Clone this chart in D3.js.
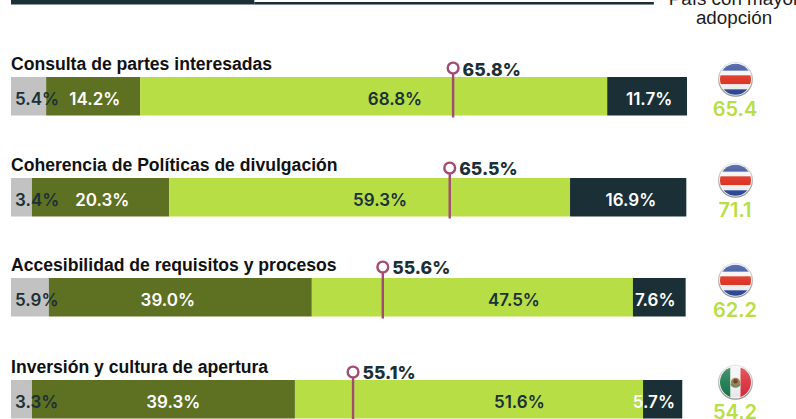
<!DOCTYPE html>
<html><head><meta charset="utf-8">
<script src="https://cdn.jsdelivr.net/npm/d3@7"></script>
<style>
html,body{margin:0;padding:0;background:#fff;overflow:hidden}
svg{display:block}
text{font-family:Inter,"Liberation Sans",sans-serif}
text.grot{font-family:"Liberation Sans",Arial,sans-serif}
</style></head><body>
<div id="chart"></div>
<script>
const categories=["Consulta de partes interesadas","Coherencia de Políticas de divulgación","Accesibilidad de requisitos y procesos","Inversión y cultura de apertura"];
const seriesA=[5.2,3.1,5.6,3.1];
const seriesB=[13.9,20.3,38.9,38.9];
const seriesC=[69.1,59.3,47.5,51.5];
const seriesD=[11.8,17.2,7.8,5.8];
const labelsA=["5.4%","3.4%","5.9%","3.3%"];
const labelsB=["14.2%","20.3%","39.0%","39.3%"];
const labelsC=["68.8%","59.3%","47.5%","51.6%"];
const labelsD=["11.7%","16.9%","7.6%","5.7%"];
const averages=[65.4,64.9,55.0,50.6];
const averageLabels=["65.8%","65.5%","55.6%","55.1%"];
const bestCountries=["CR","CR","CR","MX"];
const bestValues=["65.4","71.1","62.2","54.2"];
const headerLines=["País con mayor","adopción"];

// placement, kept apart from the data
const anchorA=[0.6,0.6,0.6,0.6];
const anchorB=[12.4,13.5,23.2,24.0];
const anchorC=[56.8,54.6,74.4,75.2];
const anchorD=[94.4,91.7,95.3,95.1];
const rowTops=[77,178,278,380];
const markerLift=[9,10,11,8];
const markerLabelLift=[1,3,4,1];

const W=796,H=419,DARK="#1a3036",OLIVE="#5e7021",LIME="#b7de45",GREY="#c2c2c2",PLUM="#a34a72";
const x=d3.scaleLinear().domain([0,100]).range([11,687]);
const y=d3.scaleOrdinal().domain(categories).range(rowTops);
const barH=38.5;

const svg=d3.select("#chart").append("svg").attr("width",W).attr("height",H);
const defs=svg.append("defs");
const ring=defs.append("linearGradient").attr("id","ring").attr("x1",0).attr("y1",0).attr("x2",0).attr("y2",1);
ring.append("stop").attr("offset",0).attr("stop-color","#e8e8e8");
ring.append("stop").attr("offset",1).attr("stop-color","#8f8f8f");
const gloss=defs.append("linearGradient").attr("id","gloss").attr("x1",0).attr("y1",0).attr("x2",0).attr("y2",1);
gloss.append("stop").attr("offset",0).attr("stop-color","#fff").attr("stop-opacity",.22);
gloss.append("stop").attr("offset",.5).attr("stop-color","#fff").attr("stop-opacity",.06);
gloss.append("stop").attr("offset",1).attr("stop-color","#000").attr("stop-opacity",.06);
defs.append("clipPath").attr("id","disc").append("circle").attr("r",15.5);
defs.append("filter").attr("id","soft").append("feGaussianBlur").attr("stdDeviation",.45);

// header rule
svg.append("rect").attr("x",x(0)).attr("y",0).attr("width",x(36)-x(0)).attr("height",4.5).attr("fill",DARK);
svg.append("rect").attr("x",x(36)).attr("y",2).attr("width",x(95.1)-x(36)).attr("height",2.2).attr("fill",DARK);
svg.append("rect").attr("x",x(36)).attr("y",4.2).attr("width",x(95.1)-x(36)).attr("height",.8).attr("fill",DARK).attr("opacity",.55);
svg.selectAll("text.head").data(headerLines).join("text").attr("class","head grot")
  .attr("x",734).attr("y",(d,i)=>5+i*19).attr("text-anchor","middle")
  .attr("font-size",18.8).attr("font-weight",400).attr("fill","#1b1b1b").text(d=>d);

const rows=categories.map((c,i)=>{
  const vals=[seriesA[i],seriesB[i],seriesC[i],seriesD[i]];
  let acc=0;
  const segs=vals.map(v=>{const s={x0:acc,x1:acc+v};acc+=v;return s;});
  return {c,i,segs,
    labels:[labelsA[i],labelsB[i],labelsC[i],labelsD[i]],
    anchors:[anchorA[i],anchorB[i],anchorC[i],anchorD[i]]};
});
const fills=[GREY,OLIVE,LIME,DARK];
const textFill=[DARK,"#fff",DARK,"#fff"];

const row=svg.selectAll("g.row").data(rows).join("g").attr("class","row");
row.append("text").attr("class","grot").attr("x",11).attr("y",d=>y(d.c)-7)
  .attr("font-size",17.6).attr("font-weight",700).attr("fill","#111").text(d=>d.c);
row.each(function(d){
  const g=d3.select(this),top=y(d.c);
  g.selectAll("rect.seg").data(d.segs).join("rect").attr("class","seg")
    .attr("x",s=>x(s.x0)).attr("y",top).attr("width",s=>x(s.x1)-x(s.x0)).attr("height",barH)
    .attr("fill",(s,j)=>fills[j]);
  g.selectAll("text.lab").data(d.labels).join("text").attr("class","lab")
    .attr("x",(s,j)=>x(d.anchors[j])).attr("y",top+27.5)
    .attr("text-anchor",(s,j)=>j===0?"start":"middle")
    .attr("font-size",17).attr("font-weight",600)
    .attr("fill",(s,j)=>textFill[j]).text(s=>s);
  // average marker
  const mx=x(averages[d.i]),my=top-markerLift[d.i];
  g.append("line").attr("x1",mx).attr("x2",mx).attr("y1",my).attr("y2",top+40.5)
    .attr("stroke",PLUM).attr("stroke-width",2.4);
  g.append("circle").attr("cx",mx).attr("cy",my).attr("r",5.4).attr("fill","#fff")
    .attr("stroke",PLUM).attr("stroke-width",2.4);
  g.append("text").attr("x",mx+9.5).attr("y",top-markerLabelLift[d.i]).attr("font-size",17.6).attr("font-weight",800)
    .attr("fill",DARK).text(averageLabels[d.i]);
  // best-country flag
  const f=g.append("g").attr("transform",`translate(735.5,${top+2.3})`).attr("filter","url(#soft)");
  f.append("circle").attr("r",17.5).attr("fill","url(#ring)");
  f.append("circle").attr("r",16.2).attr("fill","#fff");
  const fc=f.append("g").attr("clip-path","url(#disc)");
  if(bestCountries[d.i]==="CR"){
    [["#2f4a9a",-16,7.5],["#f4f4f4",-8.5,4.5],["#dc2f1f",-4,9],["#f4f4f4",5,5],["#2f4a9a",10,7]].forEach(b=>
      fc.append("rect").attr("x",-16).attr("y",b[1]).attr("width",32).attr("height",b[2]).attr("fill",b[0]));
  }else{
    [["#1c7a4e",-16,11],["#f4f4f4",-5,10],["#d9303c",5,11]].forEach(b=>
      fc.append("rect").attr("x",b[1]).attr("y",-16).attr("width",b[2]).attr("height",32).attr("fill",b[0]));
    fc.append("circle").attr("r",4.6).attr("fill","#9a7a4a");
    fc.append("circle").attr("r",2.2).attr("cy",-1).attr("fill","#5a3d22");
    fc.append("path").attr("d",d3.arc()({innerRadius:4.2,outerRadius:5.4,startAngle:Math.PI*.6,endAngle:Math.PI*1.4})).attr("fill","#4f8a6a");
  }
  fc.append("circle").attr("r",15.5).attr("fill","url(#gloss)");
  g.append("text").attr("x",735).attr("y",top+38.5).attr("text-anchor","middle")
    .attr("font-size",20).attr("font-weight",600).attr("fill",LIME).text(bestValues[d.i]);
});
</script>
</body></html>
